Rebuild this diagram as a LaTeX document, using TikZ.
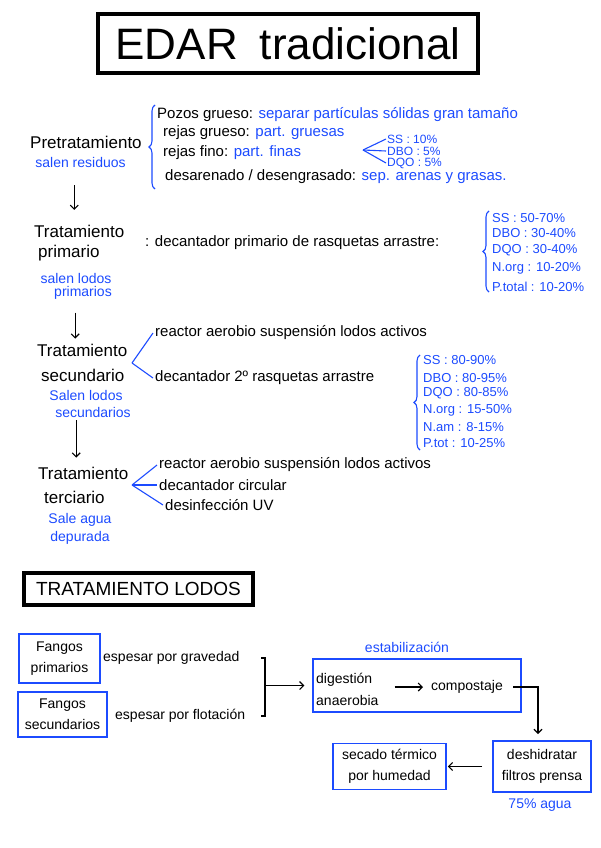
\documentclass[tikz,border=0pt]{standalone}
\usepackage{fontspec}
\setmainfont{Liberation Sans}
\usetikzlibrary{arrows.meta,calc,decorations.pathreplacing}
\definecolor{ink}{RGB}{28,75,255}
\tikzset{
  titlebox/.style={draw=black, line width=4pt, align=center, inner sep=0pt},
  bluebox/.style={draw=ink, line width=1.4pt, align=center, inner sep=2pt, font=\fontsize{14}{21}\selectfont},
  heading/.style={anchor=west, align=left, inner sep=1pt, font=\fontsize{17}{20}\selectfont},
  item/.style={anchor=west, inner sep=2pt, font=\fontsize{15}{18}\selectfont},
  note/.style={text=ink, align=center, inner sep=1pt, font=\fontsize{14}{16}\selectfont},
  pct/.style={anchor=west, text=ink, inner sep=2pt, font=\fontsize{13}{15}\selectfont},
  arrow/.style={-{Straight Barb[length=4pt,width=8pt]}, line width=1.1pt},
  link/.style={line width=1.1pt},
  fork/.style={draw=ink, line width=1.1pt},
  bracebl/.style={draw=ink, line width=1.1pt, decorate, decoration={brace, amplitude=6pt}}
}
\begin{document}
\begin{tikzpicture}[x=1pt, y=-1pt,
  small/.style={font=\fontsize{14}{16}\selectfont},
  tiny/.style={inner sep=1pt, font=\fontsize{12}{13}\selectfont}
]
\useasboundingbox (0,0) rectangle (600,848);
\node[titlebox, minimum width=380pt, minimum height=59pt, font=\fontsize{44}{48}\selectfont] (title) at (288,43.5) {EDAR\hspace{0.5em}tradicional};

% pretratamiento
\node[heading] (pre) at (29,142) {Pretratamiento};
\node[note] (pre out) at (80.5,162) {salen residuos};
\node[item] (pre l1) at (155,115) {Pozos grueso: \textcolor{ink}{separar partículas sólidas gran tamaño}};
\node[item] (pre l2) at (161,133) {rejas grueso: \textcolor{ink}{part. gruesas}};
\node[item] (pre l3) at (161,153) {rejas fino: \textcolor{ink}{part. finas}};
\node[item] (pre l4) at (163,177) {desarenado / desengrasado: \textcolor{ink}{sep. arenas y grasas.}};
\node[pct, tiny] (pre ss) at (386,139) {SS : 10\%};
\node[pct, tiny] (pre dbo) at (386,151) {DBO : 5\%};
\node[pct, tiny] (pre dqo) at (386,163) {DQO : 5\%};
\coordinate (pre fork) at (363,150);
\draw[fork] (pre fork) -- (pre ss.west);
\draw[fork] (pre fork) -- (pre dbo.west);
\draw[fork] (pre fork) -- (pre dqo.west);
\coordinate (pre brace top) at (155,105);
\coordinate (pre brace bot) at (155,189);
\draw[bracebl] (pre brace bot) -- (pre brace top);

% primario
\node[heading] (prim) at (33,243) {Tratamiento\\\hspace{4pt}primario};
\node[note] (prim out) at (76,286.5) {salen lodos\\[-3pt]\hspace{14pt}primarios};
\node[item] (prim dec) at (143,243) {: decantador primario de rasquetas arrastre:};
\node[pct] (prim ss) at (490,218) {SS : 50-70\%};
\node[pct] (prim dbo) at (490,233) {DBO : 30-40\%};
\node[pct] (prim dqo) at (490,250) {DQO : 30-40\%};
\node[pct] (prim norg) at (490,268) {N.org : 10-20\%};
\node[pct] (prim ptot) at (490,287) {P.total : 10-20\%};
\coordinate (prim brace top) at (489,211);
\coordinate (prim brace bot) at (489,292);
\draw[bracebl] (prim brace bot) -- (prim brace top);

% secundario
\node[heading] (sec) at (36,362.5) {Tratamiento\\[5pt]\hspace{4pt}secundario};
\node[note] (sec out) at (86,403.5) {Salen lodos\\[1pt]\hspace{14pt}secundarios};
\coordinate (sec fork) at (132,363);
\node[item] (sec r1) at (153,333) {reactor aerobio suspensión lodos activos};
\node[item] (sec r2) at (153,378) {decantador 2º rasquetas arrastre};
\draw[fork] (sec fork) -- (sec r1.west);
\draw[fork] (sec fork) -- (sec r2.west);
\node[pct] (sec ss) at (421,360) {SS : 80-90\%};
\node[pct] (sec dbo) at (421,378) {DBO : 80-95\%};
\node[pct] (sec dqo) at (421,393) {DQO : 80-85\%};
\node[pct] (sec norg) at (421,410) {N.org : 15-50\%};
\node[pct] (sec nam) at (421,427) {N.am : 8-15\%};
\node[pct] (sec ptot) at (421,443) {P.tot : 10-25\%};
\coordinate (sec brace top) at (420,355);
\coordinate (sec brace bot) at (420,450);
\draw[bracebl] (sec brace bot) -- (sec brace top);

% terciario
\node[heading] (ter) at (37,485) {Tratamiento\\[4pt]\hspace{6pt}terciario};
\node[note] (ter out) at (80,529) {Sale agua\\[2pt]depurada};
\coordinate (ter fork) at (132,485);
\node[item] (ter r1) at (157,465) {reactor aerobio suspensión lodos activos};
\node[item] (ter r2) at (157,485) {decantador circular};
\node[item] (ter r3) at (163,505) {desinfección UV};
\draw[fork] (ter fork) -- (ter r1.west);
\draw[fork] (ter fork) -- (ter r2.west);
\draw[fork] (ter fork) -- (ter r3.west);

\draw[arrow] ($(prim.north |- pre out.south)+(-5,17)$) -- ($(prim.north)+(-5,-14)$);
\draw[arrow] ($(sec.north |- prim out.south)+(-7,12)$) -- ($(sec.north)+(-7,-4)$);
\draw[arrow] ($(ter.north |- sec out.south)+(-7,2)$) -- ($(ter.north)+(-7,-8)$);

% lodos
\node[titlebox, line width=3.5pt, minimum width=229pt, minimum height=32pt, font=\fontsize{19}{20}\selectfont] (lodos) at (138.5,589) {TRATAMIENTO LODOS};
\node[bluebox, minimum width=81pt, minimum height=49pt] (fp) at (59.5,658.5) {Fangos\\primarios};
\node[bluebox, minimum width=89pt, minimum height=45pt] (fs) at (62.5,714.5) {Fangos\\secundarios};
\node[item, small] (grav) at (101,658) {espesar por gravedad};
\node[item, small] (flot) at (113,716) {espesar por flotación};
\coordinate (fango join) at (265,685.5);
\draw[link] (grav.east -| fango join) ++(-4,0) -- ++(4,0) -- (flot.east -| fango join) -- ++(-4,0);
\node[bluebox, minimum width=208pt, minimum height=53pt] (stab) at (417,685.5) {};
\draw[arrow, shorten >=8pt] (fango join) -- (fango join -| stab.west);
\node[note] (stab lbl) at (407,647) {estabilización};
\node[item, align=left, font=\fontsize{14}{22}\selectfont] (digest) at (314,689) {digestión\\anaerobia};
\node[item, small] (compost) at (429,687) {compostaje};
\draw[arrow, shorten <=14pt, shorten >=6pt] (digest.east |- compost) -- (compost.west);
\node[bluebox, line width=1.6pt, minimum width=113pt, minimum height=46pt] (secado) at (389.5,766.5) {secado térmico\\por humedad};
\node[bluebox, line width=2pt, minimum width=98pt, minimum height=51pt] (deshid) at (542,766.5) {deshidratar\\filtros prensa};
\node[note] (agua) at (540,805) {75\% agua};
\draw[arrow, shorten <=8pt, shorten >=6pt] (compost.east) -| ($(deshid.north)+(-4,0)$);
\draw[arrow, shorten <=10pt, shorten >=1pt] (deshid.west) -- (secado.east);
\end{tikzpicture}
\end{document}
